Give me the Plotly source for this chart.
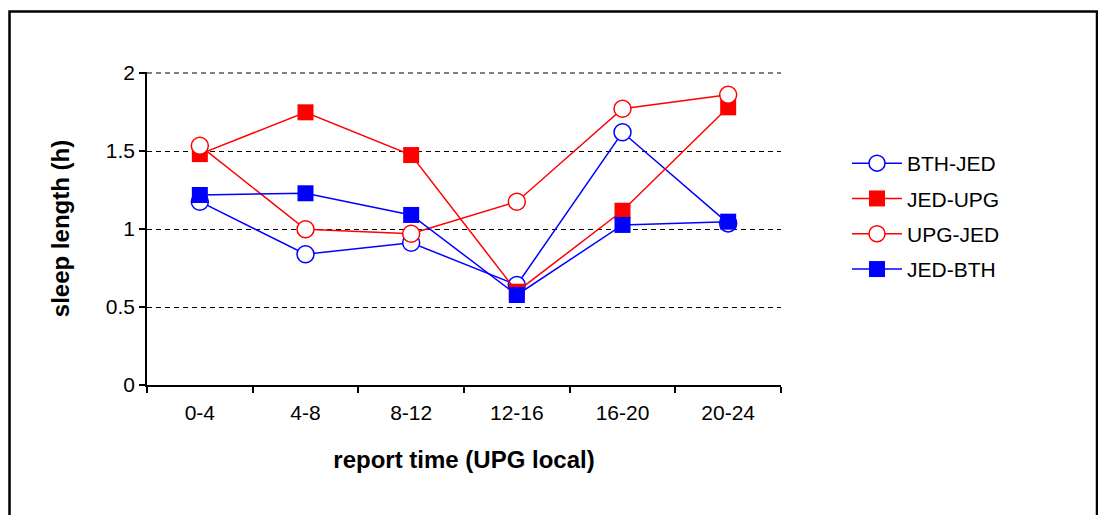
import plotly.graph_objects as go

categories = ["0-4", "4-8", "8-12", "12-16", "16-20", "20-24"]
bth_jed = [1.175, 0.838, 0.912, 0.641, 1.62, 1.036]
jed_upg = [1.48, 1.748, 1.474, 0.598, 1.117, 1.78]
upg_jed = [1.534, 0.998, 0.97, 1.175, 1.771, 1.861]
jed_bth = [1.218, 1.229, 1.09, 0.577, 1.026, 1.047]
y_ticks = [0, 0.5, 1, 1.5, 2]

# page has an 8px body margin; work in figure coordinates
OFF = 8
W, H = 1106 - 2 * OFF, 523 - 2 * OFF
L, R, T, B = 147 - OFF, 781 - OFF, 72 - OFF, 385 - OFF

fig = go.Figure()
series = [
    ("BTH-JED", bth_jed, "#0000FF", "circle-open"),
    ("JED-UPG", jed_upg, "#FF0000", "square"),
    ("UPG-JED", upg_jed, "#FF0000", "circle-open"),
    ("JED-BTH", jed_bth, "#0000FF", "square"),
]
for name, vals, col, sym in series:
    if sym == "circle-open":
        marker = dict(symbol="circle", size=17, color="white", line=dict(color=col, width=1.5))
    else:
        marker = dict(symbol="square", size=16, color=col, line=dict(color=col, width=0))
    fig.add_trace(go.Scatter(
        x=categories, y=vals, name=name, mode="lines+markers", legendgroup=name,
        line=dict(color=col, width=1.5), marker=marker,
    ))

def px_x(p):
    return (p - OFF - L) / (R - L)

def px_y(p):
    return (B - (p - OFF)) / (B - T)

fig.add_shape(type="rect", xref="paper", yref="paper",
              x0=px_x(9.5), x1=px_x(1097), y0=px_y(560), y1=px_y(11.5),
              line=dict(color="black", width=2.5), fillcolor="rgba(0,0,0,0)", layer="below")
# top gridline (plotly omits the gridline next to the plot edge)
fig.add_shape(type="line", xref="paper", yref="y", x0=0, x1=1, y0=y_ticks[-1], y1=y_ticks[-1],
              line=dict(color="black", width=1, dash="5px,4px"), layer="below")

fig.update_layout(
    width=W, height=H,
    margin=dict(l=L, r=W - R, t=T, b=H - B, pad=0),
    paper_bgcolor="white", plot_bgcolor="white",
    font=dict(family="Liberation Sans, Arial, sans-serif", size=21, color="black"),
    showlegend=True,
    legend=dict(x=px_x(847), y=px_y(143), xanchor="left", yanchor="top",
                itemwidth=50, font=dict(size=21), tracegroupgap=5,
                traceorder="grouped", bgcolor="rgba(0,0,0,0)"),
    xaxis=dict(
        type="category", range=[-0.5, 5.5], showline=True, linecolor="black", linewidth=1.5,
        ticks="outside", tickson="boundaries", ticklen=6, tickcolor="black", tickwidth=1.5,
        ticklabelstandoff=8,
        showgrid=False, zeroline=False,
        title=dict(text="<b>report time (UPG local)</b>", font=dict(size=24), standoff=28),
        tickfont=dict(size=21),
    ),
    yaxis=dict(
        range=[0, 2.0064], tickvals=y_ticks, ticktext=["0", "0.5", "1", "1.5", "2"],
        showline=True, linecolor="black", linewidth=1.5,
        ticks="outside", ticklen=6, tickcolor="black", tickwidth=1.5,
        showgrid=True, gridcolor="black", gridwidth=1, griddash="5px,4px",
        zeroline=False,
        title=dict(text="<b>sleep length (h)</b>", font=dict(size=24), standoff=29),
        tickfont=dict(size=21),
    ),
)

fig.write_html("out.html")
